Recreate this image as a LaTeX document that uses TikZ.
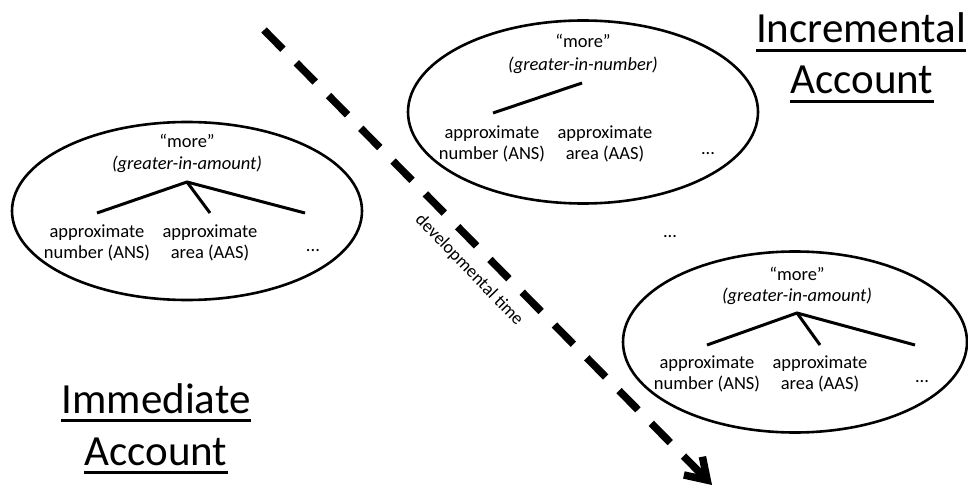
\documentclass[tikz,border=0pt]{standalone}
\usepackage{fontspec}
\setmainfont{Carlito}
\usetikzlibrary{shapes.geometric,arrows.meta}
\begin{document}
\begin{tikzpicture}[x=1pt,y=-1pt,
  bubble/.style={draw, ellipse, line width=2.6pt, inner sep=0pt},
  branch/.style={line width=3pt},
  txt/.style={font=\fontsize{18.5}{21.5}\selectfont, inner sep=0pt, align=center},
  lab/.style={font=\fontsize{18.5}{21.5}\selectfont, inner sep=0pt, anchor=base},
  title/.style={font=\fontsize{43}{50}\selectfont, inner sep=0pt, anchor=base},
  uline/.style={line width=3pt},
  timearrow/.style={line width=7.5pt, dash pattern=on 27pt off 19pt, -{Straight Barb[length=20pt,width=26pt]}}
]
\useasboundingbox (0,0) rectangle (968,489);

% ---------- left ellipse (immediate) ----------
\node[bubble, minimum width=350pt, minimum height=178pt] (E1) at (187,211) {};
\node[lab] (m1) at (187,148) {“more”};
\node[lab] (g1) at (187,170) {\itshape (greater-in-amount)};
\coordinate (r1) at (187,182);
\coordinate (a1) at (97,213);
\coordinate (b1) at (210,213);
\coordinate (c1) at (305,213);
\node[txt] (n1) at (97,243) {approximate\\number (ANS)};
\node[txt] (s1) at (210,243) {approximate\\area (AAS)};
\node[lab] (d1) at (313,251) {...};
\draw[branch] (a1) -- (r1) -- (c1);
\draw[branch] (r1) -- (b1);

% ---------- top ellipse (incremental, number) ----------
\node[bubble, minimum width=350pt, minimum height=183pt] (E2) at (583,112) {};
\node[lab] (m2) at (583,48) {“more”};
\node[lab] (g2) at (583,71) {\itshape (greater-in-number)};
\coordinate (r2) at (582,83);
\coordinate (a2) at (493,113);
\draw[branch] (r2) -- (a2);
\node[txt] (n2) at (492,144) {approximate\\number (ANS)};
\node[txt] (s2) at (605,144) {approximate\\area (AAS)};
\node[lab] (d2) at (708,155) {...};

% ---------- middle dots ----------
\node[lab] (dm) at (670,237) {...};

% ---------- bottom-right ellipse (incremental, amount) ----------
\node[bubble, minimum width=344pt, minimum height=181pt] (E3) at (795,342) {};
\node[lab] (m3) at (797,280) {“more”};
\node[lab] (g3) at (797,301) {\itshape (greater-in-amount)};
\coordinate (r3) at (797,313);
\coordinate (a3) at (707,345);
\coordinate (b3) at (820,345);
\coordinate (c3) at (915,345);
\draw[branch] (a3) -- (r3) -- (c3);
\draw[branch] (r3) -- (b3);
\node[txt] (n3) at (707,374) {approximate\\number (ANS)};
\node[txt] (s3) at (820,374) {approximate\\area (AAS)};
\node[lab] (d3) at (922,382) {...};

% ---------- developmental time arrow ----------
\coordinate (ts) at (264,30);
\coordinate (te) at (712,485);
\draw[timearrow] (ts) -- (te);
\node[txt, font=\fontsize{18}{21}\selectfont, rotate=-46] (dt) at (469,270) {developmental time};

% ---------- titles ----------
\node[title] (T1) at (861,43) {Incremental};
\node[title] (T2) at (862,94) {Account};
\node[title] (T3) at (156,413) {Immediate};
\node[title] (T4) at (156,465) {Account};
\foreach \t in {T1,T2,T3,T4}
  \draw[uline] ([yshift=-7.5pt]\t.base west) -- ([yshift=-7.5pt]\t.base east);
\end{tikzpicture}
\end{document}
